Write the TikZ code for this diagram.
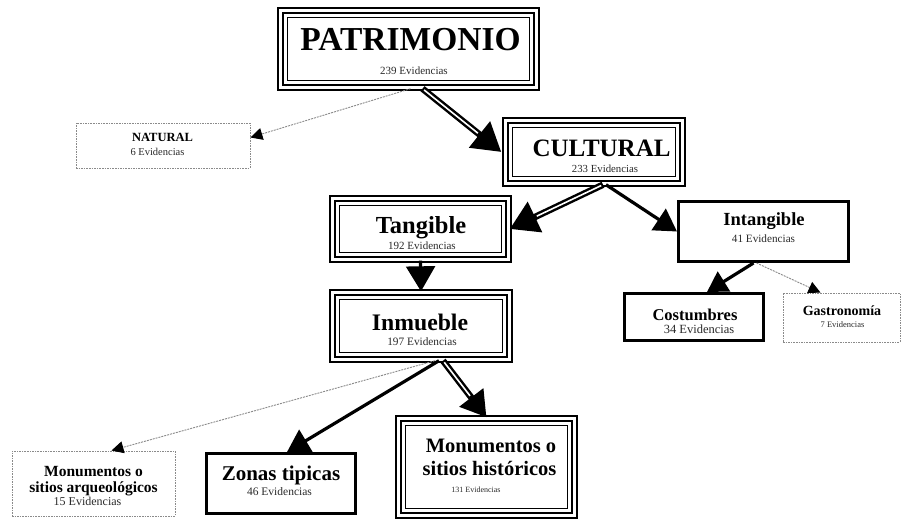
\documentclass[tikz,border=0pt]{standalone}
\usepackage{fontspec}
\setmainfont{Liberation Serif}
\usetikzlibrary{arrows.meta}
\definecolor{evgray}{HTML}{2A2A2A}
\definecolor{dotgray}{HTML}{8A8A8A}
\newcommand{\boxttl}[2]{{\fontsize{#1}{#1}\selectfont\bfseries #2}}
\newcommand{\boxev}[2]{{\fontsize{#1}{#1}\selectfont\color{evgray}#2}}
\tikzset{
  tribox/.style={draw, line width=2.4pt, double=white, double distance=2.2pt,
    inner sep=0pt, fill=white,
    path picture={\draw[line width=1pt]
      ([shift={(6.6pt,-6.6pt)}]path picture bounding box.north west) rectangle
      ([shift={(-6.6pt,6.6pt)}]path picture bounding box.south east);}},
  thickbox/.style={draw, line width=3pt, inner sep=0pt, fill=white},
  dotbox/.style={draw=dotgray, line width=0.9pt, dash pattern=on 1.6pt off 1pt,
    inner sep=0pt, fill=white},
  txt/.style={anchor=base, inner sep=0pt},
  dotarr/.style={draw=dotgray, line width=0.9pt, dash pattern=on 2pt off 1pt,
    -{Triangle[length=12pt,width=12pt,color=black]}},
  solarr/.style={line width=3.2pt, -{Triangle[length=#1,width=1.15*#1]}},
  solarr/.default=20pt,
  dblout/.style={line width=6.5pt, -{Triangle[length=#1,width=1.15*#1]}},
  dblin/.style={draw=white, line width=1.6pt, shorten >=#1, shorten <=2pt},
}
\begin{document}
\begin{tikzpicture}[x=1pt,y=-1pt]
\useasboundingbox[fill=white] (0,0) rectangle (903,519);

% boxes
\node[tribox, minimum width=256pt, minimum height=77pt] (pat) at (408.5,49) {};
\node[dotbox, minimum width=174pt, minimum height=45pt] (nat) at (163,145.5) {};
\node[tribox, minimum width=177pt, minimum height=63pt] (cul) at (594,152) {};
\node[tribox, minimum width=176pt, minimum height=61pt] (tan) at (420.5,229) {};
\node[thickbox, minimum width=170pt, minimum height=60pt] (int) at (763.5,231.5) {};
\node[thickbox, minimum width=139pt, minimum height=47pt] (cos) at (694,317) {};
\node[dotbox, minimum width=117pt, minimum height=49pt] (gas) at (841.5,317.5) {};
\node[tribox, minimum width=177pt, minimum height=67pt] (inm) at (421,326) {};
\node[dotbox, minimum width=163pt, minimum height=65pt] (arq) at (93.5,483.5) {};
\node[thickbox, minimum width=149pt, minimum height=60pt] (zon) at (281,483.5) {};
\node[tribox, minimum width=176pt, minimum height=97pt] (his) at (486.5,467) {};

% texts
\node[txt] (patA) at (410.5,51) {\boxttl{33.5}{PATRIMONIO}};
\node[txt] (patB) at (414,75) {\boxev{11}{239 Evidencias}};
\node[txt] (natA) at (162.5,141) {\boxttl{12.5}{NATURAL}};
\node[txt] (natB) at (157.5,155) {\boxev{10.5}{6 Evidencias}};
\node[txt] (culA) at (601.5,157) {\boxttl{25}{CULTURAL}};
\node[txt] (culB) at (605,172) {\boxev{10.8}{233 Evidencias}};
\node[txt] (tanA) at (421,233) {\boxttl{24.5}{Tangible}};
\node[txt] (tanB) at (422,249.5) {\boxev{11}{192 Evidencias}};
\node[txt] (intA) at (764,225) {\boxttl{18.5}{Intangible}};
\node[txt] (intB) at (763.5,242) {\boxev{11.2}{41 Evidencias}};
\node[txt] (cosA) at (695,320) {\boxttl{16.5}{Costumbres}};
\node[txt] (cosB) at (699,333) {\boxev{12.5}{34 Evidencias}};
\node[txt] (gasA) at (842,315) {\boxttl{14}{Gastronomía}};
\node[txt] (gasB) at (842.5,327) {\boxev{8.5}{7 Evidencias}};
\node[txt] (inmA) at (420,330) {\boxttl{23.7}{Inmueble}};
\node[txt] (inmB) at (422,345) {\boxev{11.3}{197 Evidencias}};
\node[txt] (arqA) at (93.5,476) {\boxttl{15.5}{Monumentos o}};
\node[txt] (arqB) at (93.5,492) {\boxttl{15.5}{sitios arqueológicos}};
\node[txt] (arqC) at (87.5,505) {\boxev{12}{15 Evidencias}};
\node[txt] (zonA) at (281,480) {\boxttl{21}{Zonas tipicas}};
\node[txt] (zonB) at (279.5,495) {\boxev{11.5}{46 Evidencias}};
\node[txt] (hisA) at (491,452) {\boxttl{20.5}{Monumentos o}};
\node[txt] (hisB) at (489.5,475) {\boxttl{20.5}{sitios históricos}};
\node[txt] (hisC) at (476,492) {\boxev{8}{131 Evidencias}};

% connectors
\draw[dotarr] ([xshift=2pt]pat.south) -- ([yshift=8pt]nat.east);
\draw[dblout=28pt] ([xshift=14pt]pat.south) -- ([xshift=-3pt]cul.west);
\draw[dblin=30pt] ([xshift=14pt]pat.south) -- ([xshift=-3pt]cul.west);

\draw[dblout=28pt] ([xshift=9pt]cul.south) -- (tan.east);
\draw[dblin=30pt] ([xshift=9pt]cul.south) -- (tan.east);
\draw[solarr=22pt] ([xshift=12pt]cul.south) -- (int.west);

\draw[solarr=25pt] (tan.south) -- (inm.north);

\draw[solarr=20pt] ([xshift=-10pt]int.south) -- ([xshift=13pt]cos.north);
\draw[dotarr] ([xshift=-7pt]int.south) -- ([xshift=-21pt]gas.north);

\draw[dotarr] ([xshift=14pt]inm.south) -- ([xshift=18pt]arq.north);
\draw[solarr=22pt] ([xshift=18pt]inm.south) -- ([xshift=6pt]zon.north);
\draw[dblout=25pt] ([xshift=22pt]inm.south) -- (his.north);
\draw[dblin=27pt] ([xshift=22pt]inm.south) -- (his.north);
\end{tikzpicture}
\end{document}
